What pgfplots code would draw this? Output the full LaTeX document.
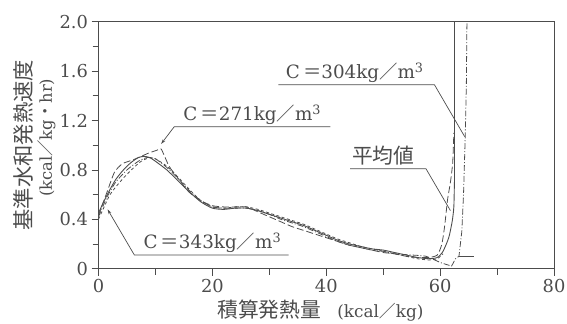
\documentclass[border=0pt]{standalone}
\usepackage{fontspec}
\setmainfont{DejaVu Serif}
\newfontfamily\jp{Noto Sans CJK JP}
\usepackage{pgfplots}
\pgfplotsset{compat=1.18}
\usetikzlibrary{arrows.meta}
\definecolor{ink}{gray}{0.3}
\newcommand{\Cl}[1]{C\,{\jp ＝}#1kg{\jp ／}m\textsuperscript{3}}
\begin{document}
\begin{tikzpicture}
\begin{axis}[
  scale only axis, width=458bp, height=248bp,
  xmin=0, xmax=80, ymin=0, ymax=2.0,
  xtick={0,20,40,60,80}, minor xtick={10,30,50,70},
  ytick={0,0.4,0.8,1.2,1.6,2.0}, minor ytick={0.2,0.6,1.0,1.4,1.8},
  yticklabels={0,0.4,0.8,1.2,1.6,2.0},
  xticklabels={0,20,40,60,80},
  tick align=outside, xtick pos=left, ytick pos=left,
  major tick length=7bp, minor tick length=6bp,
  axis line style={ink, line width=0.8pt},
  every tick/.style={ink, line width=0.8pt},
  tick label style={font=\fontsize{18}{20}\selectfont, text=ink},
  /pgf/number format/assume math mode=true,
  clip=false,
]
% average (solid)
\addplot[ink, line width=0.9pt, smooth, tension=0.4] coordinates {
(0,0.45)(1,0.55)(2,0.64)(3,0.72)(4,0.78)(5,0.83)(6,0.87)(7,0.90)(8,0.91)(9,0.90)(10,0.87)(12,0.80)(14,0.71)(16,0.62)(18,0.54)(20,0.49)(22,0.48)(24,0.49)(26,0.49)(28,0.47)(30,0.44)(32,0.41)(34,0.38)(36,0.35)(38,0.31)(40,0.27)(42,0.23)(44,0.20)(46,0.18)(48,0.16)(50,0.15)(52,0.13)(54,0.11)(56,0.09)(58,0.08)(59.5,0.09)(60.5,0.14)(61.5,0.25)(62.1,0.38)(62.4,0.5)(62.5,0.7)
};
\addplot[ink, line width=0.9pt] coordinates {(62.5,0.7)(62.5,2.0)};
% long dashed
\addplot[ink, line width=0.8pt, dash pattern=on 7pt off 3pt, smooth, tension=0.4] coordinates {
(0,0.43)(1.5,0.62)(2.8,0.78)(4.2,0.85)(6,0.88)(7.5,0.91)(9,0.94)(10.3,0.96)(11,0.97)(12.4,0.83)(14,0.73)(15.9,0.62)(18,0.55)(20,0.51)(22,0.50)(24,0.50)(26,0.50)(28,0.46)(30,0.42)(32,0.38)(34,0.34)(36,0.31)(38,0.28)(40,0.25)(42,0.22)(44,0.19)(46,0.17)(48,0.15)(50,0.13)(52,0.12)(54,0.10)(56,0.09)(58,0.09)(59.5,0.11)(60.3,0.2)(60.8,0.35)(61.3,0.56)(61.8,0.7)(62.2,0.86)(62.4,1.1)
};
% short dashed
\addplot[ink, line width=0.8pt, dash pattern=on 3pt off 2.5pt, smooth, tension=0.4] coordinates {
(0,0.40)(1,0.50)(1.9,0.59)(3,0.66)(4.5,0.74)(6,0.81)(7.5,0.87)(9,0.90)(10,0.89)(12,0.83)(14,0.74)(16,0.64)(18,0.55)(20,0.50)(22,0.49)(24,0.50)(26,0.50)(28,0.48)(30,0.45)(32,0.42)(34,0.39)(36,0.36)(38,0.32)(40,0.28)(42,0.24)(44,0.21)(46,0.18)(48,0.16)(50,0.14)(52,0.12)(54,0.10)(56,0.08)(58,0.07)(59.5,0.08)(60.5,0.12)
};
% dash-dot
\addplot[ink, line width=0.8pt, dash pattern=on 6pt off 2pt on 1pt off 2pt, smooth, tension=0.3] coordinates {
(0,0.42)(1.5,0.58)(3,0.70)(5,0.80)(7,0.87)(8.5,0.90)(10,0.89)(12,0.82)(14,0.73)(16,0.63)(18,0.55)(20,0.50)(22,0.49)(24,0.49)(26,0.49)(28,0.47)(30,0.44)(32,0.40)(34,0.37)(36,0.34)(38,0.30)(40,0.26)(42,0.22)(44,0.19)(46,0.17)(48,0.15)(50,0.14)(52,0.12)(55,0.11)(57.5,0.10)(60,0.05)(62,0.02)
};
\addplot[ink, line width=0.8pt, dash pattern=on 6pt off 2pt on 1pt off 2pt] coordinates {
(62,0.02)(62.7,0.08)(63.3,0.1)(63.8,0.3)(64.1,0.6)(64.4,1.07)(64.6,1.5)(64.7,2.0)
};
\addplot[ink, line width=0.8pt] coordinates {(63.3,0.1)(66,0.1)};
% annotations
\draw[ink, line width=0.7pt] (axis cs:31.6,1.49) -- (axis cs:59.0,1.49) -- (axis cs:64.3,1.07);
\node[anchor=south, text=ink, font=\fontsize{18.5}{22}\selectfont, inner sep=2bp] at (axis cs:45.0,1.49) {\Cl{304}};
\draw[ink, line width=0.7pt, -{Stealth[length=5bp,width=3bp]}] (axis cs:40.7,1.15) -- (axis cs:13.3,1.15) -- (axis cs:11.0,1.01);
\node[anchor=south, text=ink, font=\fontsize{18.5}{22}\selectfont, inner sep=2bp] at (axis cs:27.0,1.15) {\Cl{271}};
\draw[ink, line width=0.7pt] (axis cs:44.2,0.81) -- (axis cs:57.5,0.81) -- (axis cs:61.8,0.47);
\node[anchor=south, text=ink, font=\fontsize{21}{22}\selectfont, inner sep=3bp] at (axis cs:50.0,0.81) {\jp 平均値};
\draw[ink, line width=0.7pt, -{Stealth[length=5bp,width=3bp]}] (axis cs:33.4,0.11) -- (axis cs:6.3,0.11) -- (axis cs:1.6,0.48);
\node[anchor=south, text=ink, font=\fontsize{18.5}{22}\selectfont, inner sep=2bp] at (axis cs:20.0,0.11) {\Cl{343}};
% axis labels
\node[text=ink, font=\fontsize{17}{21}\selectfont, yshift=-42bp] at (axis description cs:0.487,0) {{\jp\fontsize{21}{22}\selectfont 積算発熱量}\hspace{16bp}(kcal{\jp ／}kg)};
\node[text=ink, font=\fontsize{21.5}{22}\selectfont, xshift=-75bp, rotate=90] at (axis description cs:0,0.5) {\jp 基準水和発熱速度};
\node[text=ink, font=\fontsize{16.5}{21}\selectfont, xshift=-52bp, rotate=90] at (axis description cs:0,0.53) {(kcal{\jp ／}kg{\jp ・}hr)};
\end{axis}
\pgfresetboundingbox
\useasboundingbox (-99bp,-55bp) rectangle (471bp,270bp);
\end{tikzpicture}
\end{document}
